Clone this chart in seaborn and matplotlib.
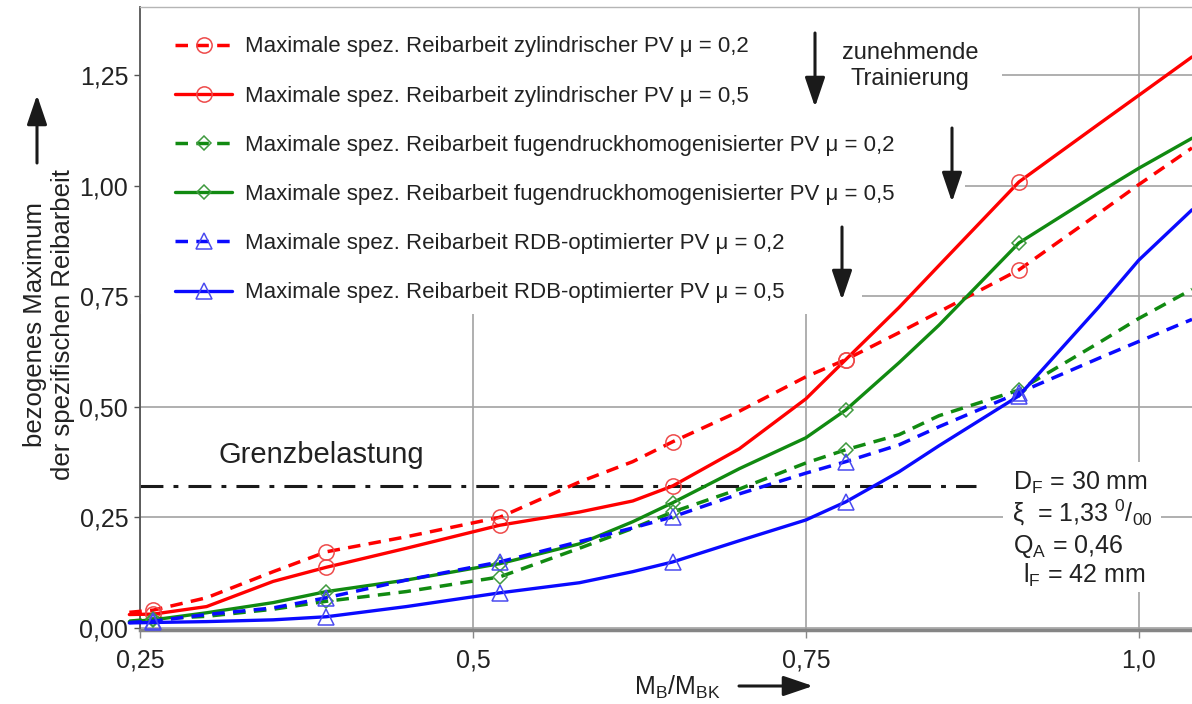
import matplotlib
matplotlib.use("Agg")
import matplotlib.pyplot as plt
from matplotlib.patches import Rectangle
import seaborn as sns

# Load ratio M_B/M_BK along which the curves are traced
curve_x = [0.242, 0.26, 0.30, 0.35, 0.39, 0.45, 0.52, 0.58, 0.62, 0.65,
           0.70, 0.75, 0.78, 0.82, 0.85, 0.91, 0.97, 1.00, 1.04]
# Positions in curve_x that are measured points (drawn with a symbol)
measured_idx = [1, 4, 6, 9, 12, 15]

# Related maximum of the specific friction work
zyl_02 = [0.035, 0.040, 0.068, 0.127, 0.172, 0.206, 0.250, 0.330, 0.376, 0.421,
          0.490, 0.568, 0.607, 0.668, 0.715, 0.810, 0.938, 1.003, 1.086]
zyl_05 = [0.030, 0.031, 0.048, 0.105, 0.137, 0.180, 0.232, 0.262, 0.287, 0.321,
          0.405, 0.518, 0.607, 0.725, 0.820, 1.009, 1.140, 1.205, 1.292]
fug_02 = [0.015, 0.020, 0.026, 0.042, 0.060, 0.082, 0.115, 0.180, 0.225, 0.262,
          0.314, 0.373, 0.403, 0.437, 0.480, 0.538, 0.645, 0.700, 0.766]
fug_05 = [0.014, 0.018, 0.034, 0.057, 0.082, 0.108, 0.145, 0.190, 0.240, 0.283,
          0.360, 0.430, 0.493, 0.600, 0.685, 0.871, 0.985, 1.040, 1.108]
rdb_02 = [0.012, 0.015, 0.030, 0.045, 0.068, 0.108, 0.149, 0.195, 0.226, 0.251,
          0.303, 0.350, 0.376, 0.414, 0.455, 0.532, 0.610, 0.648, 0.698]
rdb_05 = [0.011, 0.012, 0.014, 0.018, 0.025, 0.048, 0.079, 0.102, 0.127, 0.149,
          0.197, 0.244, 0.285, 0.353, 0.412, 0.525, 0.726, 0.832, 0.946]

series_labels = [
    "Maximale spez. Reibarbeit zylindrischer PV μ = 0,2",
    "Maximale spez. Reibarbeit zylindrischer PV μ = 0,5",
    "Maximale spez. Reibarbeit fugendruckhomogenisierter PV μ = 0,2",
    "Maximale spez. Reibarbeit fugendruckhomogenisierter PV μ = 0,5",
    "Maximale spez. Reibarbeit RDB-optimierter PV μ = 0,2",
    "Maximale spez. Reibarbeit RDB-optimierter PV μ = 0,5",
]

# Load limit line
grenz_value = 0.321
grenz_span = (0.25, 0.878)

x_ticks = [0.25, 0.5, 0.75, 1.0]
x_tick_labels = ["0,25", "0,5", "0,75", "1,0"]
y_ticks = [0.0, 0.25, 0.5, 0.75, 1.0, 1.25]
y_tick_labels = ["0,00", "0,25", "0,50", "0,75", "1,00", "1,25"]

sns.set_theme(style="white")
plt.rcParams["font.family"] = ["Liberation Sans", "DejaVu Sans"]
plt.rcParams["mathtext.fontset"] = "custom"
plt.rcParams["mathtext.rm"] = "Liberation Sans"
plt.rcParams["mathtext.it"] = "Liberation Sans:italic"
plt.rcParams["mathtext.bf"] = "Liberation Sans:bold"

W, H = 1192, 704
TXT = "#222222"
fig = plt.figure(figsize=(W / 100, H / 100), dpi=100)
ax = fig.add_axes([140 / W, 1 - 630 / H, 1052 / W, 623 / H])


def fig_pt(px, py):
    return (px / W, 1 - py / H)


dashed = (0, (3.6, 2.4))
red, green, blue = "#ff0000", "#118a11", "#0a0aff"
red_m, green_m, blue_m = "#ee4a4a", "#3f9a3f", "#4a4af0"
styles = [
    dict(color=red, mec=red_m, marker="o", ms=11, ls=dashed, lw=2.5),
    dict(color=red, mec=red_m, marker="o", ms=11, ls="-", lw=2.4),
    dict(color=green, mec=green_m, marker="D", ms=7, ls=dashed, lw=2.5),
    dict(color=green, mec=green_m, marker="D", ms=7, ls="-", lw=2.4),
    dict(color=blue, mec=blue_m, marker="^", ms=11, ls=dashed, lw=2.5),
    dict(color=blue, mec=blue_m, marker="^", ms=11, ls="-", lw=2.4),
]

for values, label, st in zip([zyl_02, zyl_05, fug_02, fug_05, rdb_02, rdb_05],
                             series_labels, styles):
    sns.lineplot(x=curve_x, y=values, ax=ax, errorbar=None, label=label,
                 color=st["color"], linestyle=st["ls"], linewidth=st["lw"],
                 marker=st["marker"], markersize=st["ms"], markevery=measured_idx,
                 markerfacecolor="none", mec=st["mec"], mew=1.1,
                 clip_on=False, zorder=3)

# Limit load line
ax.hlines(grenz_value, grenz_span[0], grenz_span[1], colors="#1a1a1a",
          linewidth=2.2, linestyles=[(0, (7.5, 3.3, 1.6, 3.3))], zorder=2.5)

ax.set_xlim(0.25, 1.04)
ax.set_ylim(-0.005, 1.405)
ax.set_xticks(x_ticks, x_tick_labels)
ax.set_yticks(y_ticks, y_tick_labels)

ax.set_axisbelow(True)
ax.grid(True, color="#a2a2a2", linewidth=1.2)
ax.spines["right"].set_visible(False)
ax.spines["top"].set_color("#b5b5b5")
ax.spines["top"].set_linewidth(1.0)
ax.spines["left"].set_color("#555555")
ax.spines["left"].set_linewidth(1.3)
ax.spines["bottom"].set_color("#858585")
ax.spines["bottom"].set_linewidth(2.5)
ax.tick_params(axis="y", left=True, direction="out", length=4, width=1,
               color="#555555", labelsize=18, labelcolor=TXT, pad=4.5)
ax.tick_params(axis="x", bottom=True, direction="out", length=6, width=1,
               color="#888888", labelsize=18, labelcolor=TXT, pad=7)

# White areas that keep the legend and the notes free of grid lines
for (x0, y0, x1, y1) in [(0.0, 0.851, 0.819, 1.0), (0.0, 0.690, 0.784, 1.0),
                         (0.0, 0.507, 0.686, 1.0), (0.820, 0.061, 0.971, 0.270)]:
    ax.add_patch(Rectangle((x0, y0), x1 - x0, y1 - y0, transform=ax.transAxes,
                           facecolor="white", edgecolor="none", zorder=1))

leg = ax.legend(loc="upper left", bbox_to_anchor=(0.033, 0.953), frameon=False,
                fontsize=16, handlelength=2.6, handletextpad=0.55,
                labelspacing=1.27, borderpad=0, borderaxespad=0, numpoints=1)
for t in leg.get_texts():
    t.set_color(TXT)

ax.set_ylabel("bezogenes Maximum\nder spezifischen Reibarbeit", fontsize=18.5,
              color=TXT, linespacing=1.2)
ax.yaxis.set_label_coords(-0.062, 0.49)
ax.set_xlabel(r"M$_\mathregular{B}$/M$_\mathregular{BK}$", fontsize=18, color=TXT,
              ha="left", va="baseline")
ax.xaxis.set_label_coords(0.4696, -0.1043)

arrow_kw = dict(arrowstyle="-|>,head_length=1.0,head_width=0.34", color="#1a1a1a",
                lw=2.2, mutation_scale=18, shrinkA=0, shrinkB=0)
for (x0, y0, x1, y1) in [(37, 163, 37, 95), (739, 686, 813, 686),
                         (815, 33, 815, 107), (952, 128, 952, 202),
                         (842, 227, 842, 300)]:
    ax.annotate("", xy=fig_pt(x1, y1), xytext=fig_pt(x0, y0),
                xycoords="figure fraction", textcoords="figure fraction",
                arrowprops=arrow_kw, annotation_clip=False)

fig.text(*fig_pt(910, 66), "zunehmende\nTrainierung", fontsize=17, color=TXT,
         ha="center", va="center", linespacing=1.25)
fig.text(*fig_pt(218, 463), "Grenzbelastung", fontsize=21, color=TXT,
         ha="left", va="baseline")

notes = [
    (1013, 490, r"D$_\mathregular{F}$ = 30 mm"),
    (1012, 522, r"ξ  = 1,33 $^\mathregular{0}$/$_\mathregular{00}$"),
    (1013, 553, r"Q$_\mathregular{A}$ = 0,46"),
    (1023, 583, r"l$_\mathregular{F}$ = 42 mm"),
]
for px, py, s in notes:
    fig.text(*fig_pt(px, py), s, fontsize=18, color=TXT, ha="left", va="baseline")

fig.savefig("out.png", dpi=100)
